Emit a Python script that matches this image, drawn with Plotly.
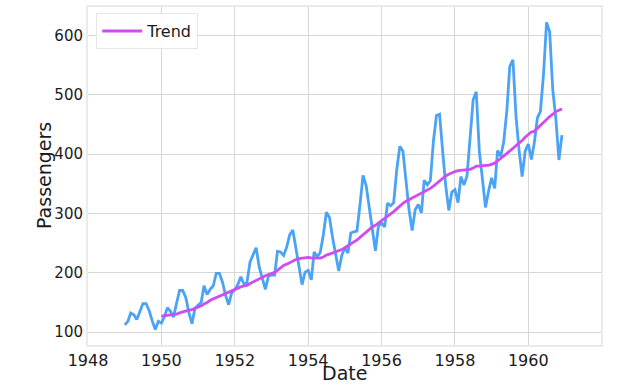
import pandas as pd
import plotly.graph_objects as go

# Monthly airline passengers (thousands), Jan 1949 - Dec 1960
passengers = [
    112, 118, 132, 129, 121, 135, 148, 148, 136, 119, 104, 118,
    115, 126, 141, 135, 125, 149, 170, 170, 158, 133, 114, 140,
    145, 150, 178, 163, 172, 178, 199, 199, 184, 162, 146, 166,
    171, 180, 193, 181, 183, 218, 230, 242, 209, 191, 172, 194,
    196, 196, 236, 235, 229, 243, 264, 272, 237, 211, 180, 201,
    204, 188, 235, 227, 234, 264, 302, 293, 259, 229, 203, 229,
    242, 233, 267, 269, 270, 315, 364, 347, 312, 274, 237, 278,
    284, 277, 317, 313, 318, 374, 413, 405, 355, 306, 271, 306,
    315, 301, 356, 348, 355, 422, 465, 467, 404, 347, 305, 336,
    340, 318, 362, 348, 363, 435, 491, 505, 404, 359, 310, 337,
    360, 342, 406, 396, 420, 472, 548, 559, 463, 407, 362, 405,
    417, 391, 419, 461, 472, 535, 622, 606, 508, 461, 390, 432,
]

# Trend values, Jan 1950 - Dec 1960
trend = [
    126.92, 127.58, 128.33, 128.83, 129.17, 130.33, 132.17, 134.00, 135.83, 137.00, 137.83, 139.67,
    142.17, 144.17, 147.25, 149.58, 153.50, 155.92, 158.33, 160.75, 162.92, 165.33, 168.00, 170.17,
    172.33, 174.83, 176.08, 177.58, 178.50, 181.83, 184.42, 188.00, 190.08, 192.50, 194.67, 197.00,
    199.08, 200.42, 204.00, 208.50, 212.33, 214.42, 217.25, 219.75, 222.08, 223.75, 224.42, 225.00,
    225.67, 225.00, 224.92, 224.25, 224.67, 226.42, 229.58, 231.33, 233.17, 234.67, 236.58, 238.92,
    242.08, 245.83, 248.50, 252.00, 255.00, 259.25, 264.42, 268.92, 273.33, 277.08, 279.92, 284.00,
    287.50, 291.17, 295.33, 299.00, 303.00, 307.92, 312.00, 316.83, 320.42, 323.08, 325.92, 328.25,
    330.83, 332.83, 336.08, 339.00, 342.08, 346.08, 350.42, 355.58, 359.67, 363.08, 365.92, 368.42,
    370.50, 371.92, 372.42, 372.42, 373.08, 374.17, 376.33, 379.50, 379.50, 380.50, 380.92, 381.00,
    382.67, 384.67, 388.33, 392.33, 397.08, 400.17, 404.92, 409.42, 414.33, 418.33, 422.67, 428.33,
    433.08, 437.17, 438.25, 443.67, 448.00, 453.25, 459.42, 463.33, 467.08, 471.58, 473.92, 476.17,
]

dates = pd.date_range("1949-01-01", periods=len(passengers), freq="MS")
trend_dates = pd.date_range("1950-01-01", periods=len(trend), freq="MS")

FONT = "DejaVu Sans"
TXT = "#1a1a1a"

fig = go.Figure()
fig.add_trace(go.Scatter(
    x=dates, y=passengers, mode="lines", name="Passengers",
    line=dict(color="#4aa3f5", width=2.8), showlegend=False,
))
fig.add_trace(go.Scatter(
    x=trend_dates, y=trend, mode="lines", name="Trend",
    line=dict(color="#cf4cf2", width=2.8),
))

fig.update_layout(
    width=640, height=385,
    margin=dict(l=88, r=39, t=5, b=40),
    paper_bgcolor="white", plot_bgcolor="white",
    font=dict(family=FONT, size=16, color=TXT),
    legend=dict(
        x=0.016, y=0.982, xanchor="left", yanchor="top",
        bgcolor="rgba(255,255,255,0.9)", bordercolor="#e6e6e6", borderwidth=1,
        font=dict(family=FONT, size=16, color=TXT),
        itemwidth=40, tracegroupgap=0,
    ),
    xaxis=dict(
        type="date",
        range=["1948-01-01", "1961-12-25"],
        dtick="M24", tick0="1948-01-01", tickformat="%Y",
        showgrid=True, gridcolor="#d6d6d6", gridwidth=1,
        showline=True, linecolor="#ebebeb", linewidth=2, mirror=True,
        ticks="", zeroline=False,
        tickfont=dict(family=FONT, size=16, color=TXT),
    ),
    yaxis=dict(
        range=[78.1, 647.9],
        dtick=100, tick0=0,
        showgrid=True, gridcolor="#d6d6d6", gridwidth=1,
        showline=True, linecolor="#ebebeb", linewidth=2, mirror=True,
        ticks="", zeroline=False,
        tickfont=dict(family=FONT, size=15, color=TXT),
    ),
    annotations=[
        dict(text="Date", xref="paper", yref="paper", x=0.5, y=0,
             xanchor="center", yanchor="middle", yshift=-28, showarrow=False,
             font=dict(family=FONT, size=19, color=TXT)),
        dict(text="Passengers", xref="paper", yref="paper", x=0, y=0.5,
             xanchor="center", yanchor="middle", xshift=-44, textangle=-90,
             showarrow=False, font=dict(family=FONT, size=19, color=TXT)),
    ],
)

fig.write_html(
    "out.html",
    config={"displayModeBar": False},
    post_script="document.body.style.margin='0px';",
)
